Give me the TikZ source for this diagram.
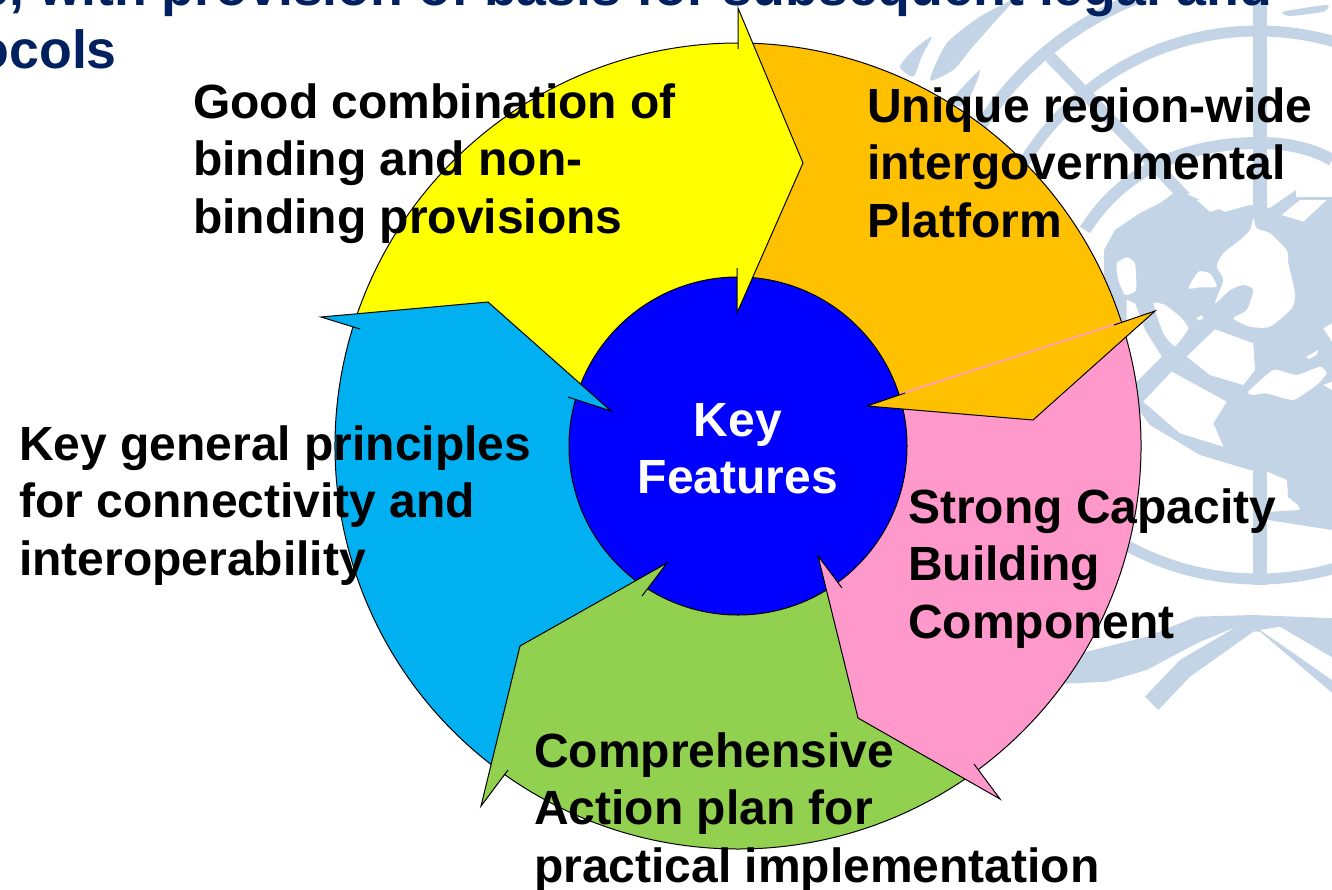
\documentclass[tikz,border=0pt]{standalone}
\usepackage{fontspec}
\setmainfont{Liberation Sans}
\definecolor{navy}{HTML}{002060}
\definecolor{wm}{HTML}{C3D4E7}
\definecolor{cyel}{HTML}{FFFF00}
\definecolor{cora}{HTML}{FFC000}
\definecolor{cpin}{HTML}{FF99CC}
\definecolor{cgre}{HTML}{92D050}
\definecolor{cblu}{HTML}{00B0F0}
\definecolor{ckey}{HTML}{0000FF}
\newcommand{\fl}{\rule{0pt}{40pt}}
\newcommand{\shaftpart}[3]{%
 \fill[#1] ([shift={(c)}]#2:403pt) arc[start angle=#2,end angle=#3,radius=403pt] -- ([shift={(c)}]#3:169pt) arc[start angle=#3,end angle=#2,radius=169pt] -- cycle;
 \draw[edge] ([shift={(c)}]#2:403pt) arc[start angle=#2,end angle=#3,radius=403pt];}
\newcommand{\headpart}[7]{% fill, seam, outer barb, apex, inner barb, outer tick, inner tick
 \fill[#1] #3 -- #4 -- #5 -- #7 -- #6 -- cycle;
 \draw[draw=#2,line width=0.7pt] #6 -- #7;
 \draw[edge] #6 -- #3 -- #4 -- #5 -- #7;}
\tikzset{
 lab/.style={align=left,anchor=north west,font=\fontsize{48}{57.5}\selectfont\bfseries,inner sep=0pt,text=black},
 ttl/.style={font=\fontsize{53.7}{63}\selectfont\bfseries,inner sep=0pt,text=navy},
 edge/.style={draw=black,line width=1pt,line join=miter},
 wmline/.style={draw=wm,line width=12pt},
 wmfill/.style={fill=wm},
 cut/.style={fill=white}
}
\begin{document}
\begin{tikzpicture}[x=1pt,y=-1pt]
\useasboundingbox (0,0) rectangle (1332,889);
\clip (0,0) rectangle (1332,889);
\coordinate (c) at (738,446);
\coordinate (p) at (1258,305);
% watermark: land, rings, wreath
\fill[wmfill] (1104,270) -- (1104,250) -- (1115,230) -- (1140,213) -- (1160,203) -- (1178,190) -- (1200,200) -- (1225,212) -- (1250,205) -- (1270,208) -- (1296,190) -- (1296,197) -- (1332,197) -- (1332,530) -- (1268,520) -- (1267,512) -- (1300,510) -- (1298,505) -- (1288,497) -- (1287,480) -- (1268,472) -- (1250,470) -- (1200,455) -- (1150,425) -- (1120,385) -- (1106,340) -- cycle;
\begin{scope}[shift={(1100,200)},x=0.3333pt,y=-0.3333pt]
\fill[cut] plot[smooth cycle,tension=0.4] coordinates {(460,55)(470,85)(510,100)(560,150)(565,190)(585,280)(575,325)(510,380)(450,380)(400,355)(440,330)(460,270)(430,255)(390,270)(345,310)(370,240)(350,200)(370,160)(420,120)(450,90)};
\fill[cut] plot[smooth cycle,tension=0.3] coordinates {(265,265)(295,215)(330,220)(350,260)(300,262)};
\fill[cut] plot[smooth cycle,tension=0.3] coordinates {(160,310)(195,315)(240,350)(265,385)(225,438)(190,400)};
\fill[cut] plot[smooth cycle,tension=0.3] coordinates {(50,190)(80,172)(105,190)(108,270)(75,285)(55,240)};
\fill[cut] (80,300) -- (105,310) -- (135,390) -- (185,470) -- (110,545) -- (80,430) -- cycle;
\fill[cut] (345,388) -- (460,430) -- (465,510) -- (430,555) -- (330,525) -- (260,470) -- cycle;
\fill[cut] (215,515) -- (380,605) -- (340,670) -- (370,740) -- (240,700) -- (130,605) -- cycle;
\fill[cut] plot[smooth cycle,tension=0.3] coordinates {(445,575)(520,510)(590,525)(660,500)(680,520)(650,555)(580,600)(500,580)(460,585)};
\fill[cut] (620,470) -- (655,450) -- (650,465) -- (625,478) -- cycle;
\fill[cut] (290,355) -- (305,345) -- (310,355) -- (295,362) -- cycle;
\fill[cut] (290,0) -- (400,0) -- (385,20) -- (330,35) -- cycle;
\fill[cut] (545,45) -- (600,0) -- (680,0) -- (610,65) -- cycle;
\fill[cut] (670,385) -- (696,370) -- (696,425) -- cycle;
\fill[cut] (670,555) -- (696,545) -- (696,570) -- cycle;
\end{scope}
\draw[wm,line width=11pt] (p) circle (274pt);
\draw[wmline] ([shift={(p)}]80:330pt) arc[start angle=80,end angle=150,radius=330pt];
\draw[wmline] (1085,230) .. controls (1110,190) and (1160,143) .. (1260,143) .. controls (1290,143) and (1315,150) .. (1332,160);
\draw[draw=wm,line width=14pt] (1260,-5) -- (1260,215);
\draw[draw=wm,line width=14pt] (1260,465) -- (1260,585);
\draw[wmline] (1050,57) -- (1185,197);
\begin{scope}[shift={(880,0)},x=0.3333pt,y=-0.3333pt]
\fill[wmfill] plot[smooth cycle,tension=0.4] coordinates {(60,200)(100,150)(155,110)(125,170)(100,230)};
\fill[wmfill] plot[smooth cycle,tension=0.4] coordinates {(150,240)(200,130)(300,50)(400,0)(340,70)(270,150)(220,210)};
\fill[wmfill] plot[smooth cycle,tension=0.4] coordinates {(215,300)(300,210)(270,290)(240,320)};
\fill[wmfill] plot[smooth cycle,tension=0.4] coordinates {(1210,35)(1340,15)(1330,35)(1230,48)};
\end{scope}
\begin{scope}[shift={(1080,480)},x=0.3333pt,y=-0.3333pt]
\fill[wmfill] (-90,565) -- (0,520) -- (200,470) -- (350,410) -- (520,405) -- (770,415) -- (770,540) -- (600,440) -- (540,450) -- (770,610) -- (770,650) -- (540,455) -- (520,455) -- (330,590) -- (235,690) -- (195,650) -- (300,540) -- (470,440) -- (350,490) -- (200,570) -- (80,605) -- (-60,612) -- cycle;
\end{scope}
% title, cut by the edges of the picture
\node[ttl,anchor=base east] (t1) at (1272,5) {e, with provision of basis for subsequent legal and};
\node[ttl,anchor=base east] (t2) at (117,68) {ocols};
% arrow bodies
\shaftpart{cora}{90}{18}
\shaftpart{cpin}{18}{-54}
\shaftpart{cgre}{-54}{-126}
\shaftpart{cblu}{-126}{-198}
\shaftpart{cyel}{162}{90}
% centre
\node[circle,draw=black,line width=1pt,fill=ckey,minimum size=338pt,inner sep=0pt] (hub) at (c) {};
% arrow heads
\headpart{cyel}{cyel}{(738,8)}{(803,163)}{(737,313)}{(738,49)}{(737,268)}
\headpart{cora}{cpin}{(1155,311)}{(1033,420)}{(867,406)}{(1114,325)}{(905,393)}
\headpart{cpin}{cpin}{(1000,799)}{(858,718)}{(818,556)}{(974,764)}{(842,588)}
\headpart{cgre}{cgre}{(481,806)}{(520,646)}{(667,563)}{(508,770)}{(642,596)}
\headpart{cblu}{cblu}{(321,317)}{(488,302)}{(611,411)}{(360,329)}{(568,397)}
% labels
\node[lab] (good) at (193,78) {\fl Good combination of\\binding and non-\\binding provisions};
\node[lab] (uniq) at (867,82) {\fl Unique region-wide\\intergovernmental\\Platform};
\node[lab] (stro) at (908,483) {\fl Strong Capacity\\Building\\Component};
\node[lab] (comp) at (534,727) {\fl Comprehensive\\Action plan for\\practical implementation};
\node[lab] (prin) at (19,420) {\fl Key general principles\\for connectivity and\\interoperability};
\node[lab,align=center,anchor=north,text=white] (keyf) at (738,396) {\fl Key\\Features};
\end{tikzpicture}
\end{document}
